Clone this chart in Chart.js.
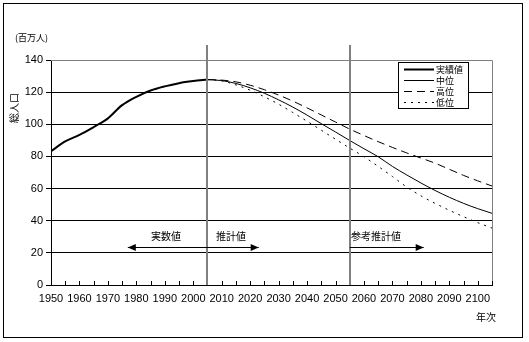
<!DOCTYPE html>
<html>
<head>
<meta charset="utf-8">
<script src="https://cdn.jsdelivr.net/npm/chart.js@4/dist/chart.umd.min.js"></script>
<style>
  html, body { margin: 0; padding: 0; background: #fff; }
  canvas { display: block; }
</style>
</head>
<body>
<canvas id="chart" width="529" height="342" style="width:529px;height:342px"></canvas>
<script>
// 総人口 (百万人)
const actualYears = [1950, 1955, 1960, 1965, 1970, 1975, 1980, 1985, 1990, 1995, 2000, 2005];
const actualPop = [83.2, 89.3, 93.4, 98.3, 103.7, 111.9, 117.1, 121.0, 123.6, 125.6, 126.9, 127.8];

const projYears = [2005, 2010, 2015, 2020, 2025, 2030, 2035, 2040, 2045, 2050, 2055,
  2060, 2065, 2070, 2075, 2080, 2085, 2090, 2095, 2100, 2105];
const mediumPop = [127.8, 127.2, 125.4, 122.7, 119.3, 115.2, 110.7, 105.7, 100.4, 95.2, 89.9,
  84.8, 79.8, 73.8, 68.5, 63.5, 58.8, 54.6, 50.8, 47.5, 44.6];
const highPop = [127.8, 127.5, 126.4, 124.3, 121.5, 118.2, 114.4, 110.2, 105.8, 101.4, 97.0,
  93.0, 89.2, 85.6, 82.2, 79.0, 75.8, 72.0, 68.2, 64.8, 61.6];
const lowPop = [127.8, 127.0, 124.5, 121.2, 117.1, 112.5, 107.3, 101.9, 96.3, 90.7, 85.2,
  79.8, 73.8, 67.5, 61.0, 55.5, 50.8, 46.5, 42.5, 38.8, 35.4];

const seriesNames = ['実績値', '中位', '高位', '低位'];
const yTicks = [0, 20, 40, 60, 80, 100, 120, 140];
const splitYears = [2005, 2055];

const numFont = 'Liberation Sans, Arial, sans-serif';
const jpFont = '"Noto Sans CJK JP", sans-serif';

const pts = (xs, ys) => xs.map((x, i) => ({ x: x, y: ys[i] }));

// plot area top / right border in grey
const frame = {
  id: 'frame',
  beforeDatasetsDraw(chart) {
    const c = chart.ctx, a = chart.chartArea;
    c.save();
    c.strokeStyle = '#808080';
    c.lineWidth = 1;
    c.beginPath();
    c.moveTo(a.left, a.top + 0.5);
    c.lineTo(a.right + 0.5, a.top + 0.5);
    c.lineTo(a.right + 0.5, a.bottom);
    c.stroke();
    c.restore();
  }
};

const extras = {
  id: 'extras',
  afterDraw(chart) {
    const c = chart.ctx;
    const a = chart.chartArea;
    const xs = chart.scales.x;
    c.save();
    // outer frame
    c.strokeStyle = '#000';
    c.lineWidth = 1;
    c.strokeRect(3.5, 3.5, 519, 334);

    // x tick marks (inward, every 5 years)
    c.beginPath();
    for (let y = 1950; y <= 2105; y += 5) {
      const px = Math.round(xs.getPixelForValue(y)) + 0.5;
      c.moveTo(px, a.bottom);
      c.lineTo(px, a.bottom - 4);
    }
    c.stroke();

    // split lines
    c.strokeStyle = '#808080';
    c.lineWidth = 2;
    splitYears.forEach(yr => {
      const px = Math.round(xs.getPixelForValue(yr));
      c.beginPath();
      c.moveTo(px, 45);
      c.lineTo(px, a.bottom);
      c.stroke();
    });

    // units
    c.fillStyle = '#000';
    c.font = '9px ' + jpFont;
    c.textBaseline = 'middle';
    c.textAlign = 'left';
    c.fillText('(百万人)', 15, 38);
    c.font = '10px ' + jpFont;
    c.fillText('年次', 476, 317);

    c.save();
    c.translate(14, 108);
    c.rotate(-Math.PI / 2);
    c.textAlign = 'center';
    c.fillText('総人口', 0, 0);
    c.restore();

    // annotations
    const arrow = (x1, x2, y, both) => {
      c.strokeStyle = '#000';
      c.fillStyle = '#000';
      c.lineWidth = 1;
      c.beginPath();
      c.moveTo(x1, y + 0.5);
      c.lineTo(x2, y + 0.5);
      c.stroke();
      const head = (x, dir) => {
        c.beginPath();
        c.moveTo(x, y + 0.5);
        c.lineTo(x - dir * 8, y - 3);
        c.lineTo(x - dir * 8, y + 4);
        c.closePath();
        c.fill();
      };
      head(x2, 1);
      if (both) head(x1, -1);
    };
    arrow(xs.getPixelForValue(1977), xs.getPixelForValue(2023), 247, true);
    arrow(xs.getPixelForValue(2055), xs.getPixelForValue(2081), 247, false);
    c.font = '10px ' + jpFont;
    c.textAlign = 'left';
    c.fillText('実数値', 151, 236);
    c.fillText('推計値', 216, 236);
    c.fillText('参考推計値', 351, 236);

    // legend
    const lx = 398, ly = 62, lw = 70, lh = 46;
    c.fillStyle = '#fff';
    c.fillRect(lx, ly, lw, lh);
    c.strokeStyle = '#000';
    c.lineWidth = 1;
    c.strokeRect(lx + 0.5, ly + 0.5, lw, lh);
    c.font = '9px ' + jpFont;
    chart.data.datasets.forEach((ds, i) => {
      const yy = ly + 7 + i * 11 + 0.5;
      c.strokeStyle = '#000';
      c.lineWidth = ds.borderWidth;
      c.setLineDash(ds.borderDash || []);
      c.beginPath();
      c.moveTo(lx + 6, yy);
      c.lineTo(lx + 36, yy);
      c.stroke();
      c.setLineDash([]);
      c.fillStyle = '#000';
      c.fillText(ds.label, lx + 38, yy);
    });
    c.restore();
  }
};

const ctx = document.getElementById('chart').getContext('2d');
const chart = new Chart(ctx, {
  type: 'line',
  data: {
    datasets: [
      { label: seriesNames[0], data: pts(actualYears, actualPop), borderColor: '#000', borderWidth: 2 },
      { label: seriesNames[1], data: pts(projYears, mediumPop), borderColor: '#000', borderWidth: 1 },
      { label: seriesNames[2], data: pts(projYears, highPop), borderColor: '#000', borderWidth: 1, borderDash: [8, 5] },
      { label: seriesNames[3], data: pts(projYears, lowPop), borderColor: '#000', borderWidth: 1, borderDash: [2, 5] }
    ]
  },
  options: {
    responsive: false,
    animation: false,
    devicePixelRatio: 1,
    layout: { padding: { top: 60, right: 37, left: 0, bottom: 0 } },
    elements: {
      point: { radius: 0 },
      line: { cubicInterpolationMode: 'monotone', fill: false }
    },
    plugins: { legend: { display: false }, tooltip: { enabled: false } },
    scales: {
      x: {
        type: 'linear',
        min: 1950,
        max: 2105,
        afterFit: s => { s.height = 57; },
        border: { color: '#000', width: 1 },
        grid: { drawOnChartArea: false, drawTicks: false },
        ticks: {
          stepSize: 10,
          includeBounds: false,
          padding: 7,
          maxRotation: 0,
          autoSkip: false,
          color: '#000',
          font: { family: numFont, size: 11 },
          callback: v => String(v)
        }
      },
      y: {
        min: 0,
        max: 140,
        afterFit: s => { s.width = 51; },
        afterBuildTicks: s => { s.ticks = yTicks.map(v => ({ value: v })); },
        border: { color: '#000', width: 1 },
        grid: { color: '#000', lineWidth: 1, tickLength: 5 },
        ticks: {
          padding: 3,
          color: '#000',
          font: { family: numFont, size: 11 }
        }
      }
    }
  },
  plugins: [frame, extras]
});
</script>
</body>
</html>
